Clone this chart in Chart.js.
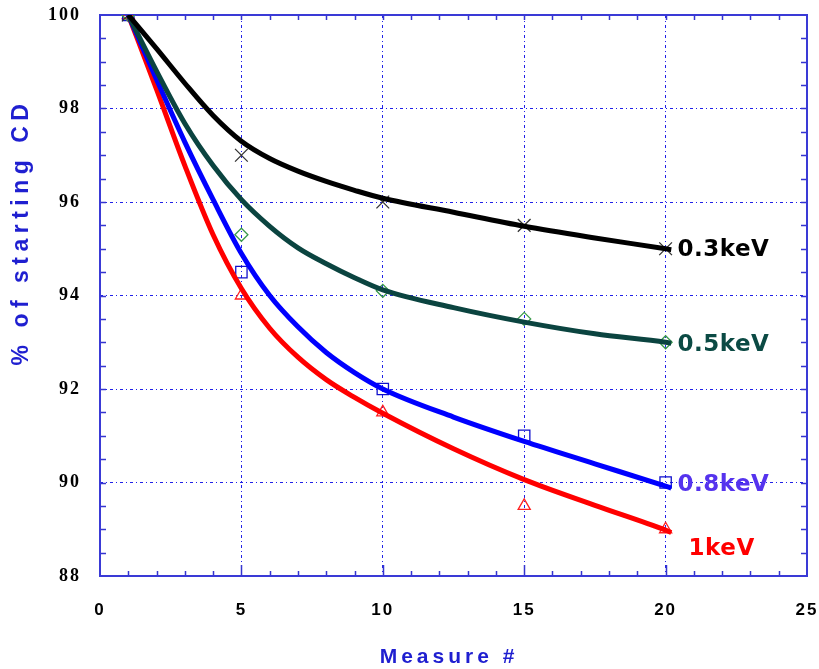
<!DOCTYPE html>
<html><head><meta charset="utf-8">
<script src="https://cdn.jsdelivr.net/npm/chart.js@4"></script>
<style>html,body{margin:0;padding:0;background:#fff}#wrap{width:819px;height:669px;position:relative}</style>
</head><body><div id="wrap"><canvas id="c" width="819" height="669"></canvas></div>
<script>
// Fitted curves
const curveX  = [1, 2, 3, 4, 5, 6, 7, 8, 9, 10, 12.5, 15, 17.5, 20, 20.2];
const curve03 = [100, 99.28, 98.54, 97.85, 97.30, 96.93, 96.66, 96.44, 96.25, 96.08, 95.78, 95.48, 95.23, 95.00, 94.98];
const curve05 = [100, 98.80, 97.68, 96.78, 96.05, 95.48, 95.02, 94.68, 94.38, 94.12, 93.74, 93.43, 93.18, 93.00, 92.98];
const curve08 = [100, 98.62, 97.28, 96.05, 94.90, 94.00, 93.33, 92.78, 92.35, 92.00, 91.40, 90.88, 90.40, 89.92, 89.88];
const curve1  = [100, 98.41, 96.78, 95.30, 94.15, 93.30, 92.68, 92.20, 91.82, 91.48, 90.72, 90.06, 89.51, 88.98, 88.93];
// Measured points
const measureX = [1, 5, 10, 15, 20];
const meas03 = [100, 97.0, 96.0, 95.5, 95.0];
const meas05 = [100, 95.3, 94.1, 93.5, 93.0];
const meas08 = [100, 94.5, 92.0, 91.0, 90.0];
const meas1  = [100, 94.0, 91.5, 89.5, 89.0];
const seriesNames = ['0.3keV', '0.5keV', '0.8keV', '1keV'];
const xTicks = [0, 5, 10, 15, 20, 25];
const yTicks = [88, 90, 92, 94, 96, 98, 100];
const xTitle = 'Measure #';
const yTitle = '% of starting CD';

const toPts = (xs, ys) => xs.map((x, i) => ({x: x, y: ys[i]}));
const curveColors = ['#000000', '#0b4440', '#0000ff', '#ff0000'];
const labelColors = ['#000000', '#0b4a44', '#5533ee', '#ff0000'];
const markColors  = ['#333333', '#3a9a4a', '#1010cc', '#ff2020'];
const curves = [curve03, curve05, curve08, curve1];
const meas = [meas03, meas05, meas08, meas1];
const markStyles = ['crossRot', 'rectRot', 'rect', 'triangle'];
const markRadius = [9, 6.5, 8, 7];

const datasets = [];
curves.forEach((c, i) => datasets.push({
  label: seriesNames[i], data: toPts(curveX, c), borderColor: curveColors[i],
  borderWidth: 5, pointRadius: 0, cubicInterpolationMode: 'monotone', fill: false
}));
meas.forEach((m, i) => datasets.push({
  label: seriesNames[i] + ' data', data: toPts(measureX, m), showLine: false,
  pointStyle: markStyles[i], pointRadius: markRadius[i], pointBorderColor: markColors[i],
  pointBackgroundColor: 'rgba(0,0,0,0)', pointBorderWidth: 1.3
}));

const decor = {
  id: 'decor',
  beforeDraw(chart) {
    const ctx = chart.ctx;
    ctx.save(); ctx.fillStyle = '#fff'; ctx.fillRect(0, 0, chart.width, chart.height); ctx.restore();
    ctx.letterSpacing = '2px';
  },
  beforeDatasetsDraw(chart) {
    const ctx = chart.ctx;
    ctx.letterSpacing = '0px';
    const a = chart.chartArea, xs = chart.scales.x, ys = chart.scales.y;
    ctx.save();
    ctx.strokeStyle = '#3535d0';
    ctx.lineWidth = 1.5;
    ctx.beginPath();
    for (let v = 1; v < 25; v++) {
      const px = Math.round(xs.getPixelForValue(v)) + 0.5;
      const len = (v % 5 === 0) ? 11 : 5;
      ctx.moveTo(px, a.bottom); ctx.lineTo(px, a.bottom - len);
      ctx.moveTo(px, a.top); ctx.lineTo(px, a.top + 5);
    }
    for (let v = 88.5; v < 100; v += 0.5) {
      const py = Math.round(ys.getPixelForValue(v)) + 0.5;
      ctx.moveTo(a.left, py); ctx.lineTo(a.left + 6, py);
      ctx.moveTo(a.right, py); ctx.lineTo(a.right - 6, py);
    }
    ctx.stroke();
    ctx.lineWidth = 2;
    ctx.strokeStyle = '#3a3ad6';
    ctx.strokeRect(a.left, a.top, a.right - a.left, a.bottom - a.top);
    ctx.restore();
  },
  afterDraw(chart) {
    const ctx = chart.ctx, xs = chart.scales.x, ys = chart.scales.y;
    ctx.save();
    // curve end labels
    const offs = [[12, 1], [12, 3], [12, 3], [23, 20]];
    ctx.font = 'bold 23px "DejaVu Sans"';
    ctx.letterSpacing = '0.5px';
    ctx.textAlign = 'left'; ctx.textBaseline = 'middle';
    curves.forEach((c, i) => {
      const px = xs.getPixelForValue(measureX[measureX.length - 1]);
      const py = ys.getPixelForValue(meas[i][meas[i].length - 1]);
      ctx.fillStyle = labelColors[i];
      ctx.fillText(seriesNames[i], px + offs[i][0], py + offs[i][1]);
    });
    // axis titles
    ctx.fillStyle = '#1f1fd0';
    ctx.font = 'bold 21px "Liberation Sans"';
    ctx.letterSpacing = '4px';
    ctx.textAlign = 'center';
    ctx.fillText(xTitle, 449, 657);
    ctx.translate(22, 232);
    ctx.rotate(-Math.PI / 2);
    ctx.font = 'bold 23px "Liberation Sans"';
    ctx.letterSpacing = '5.5px';
    ctx.fillText(yTitle, 0, 0);
    ctx.restore();
  }
};

new Chart(document.getElementById('c'), {
  type: 'line',
  data: {datasets},
  plugins: [decor],
  options: {
    responsive: false, animation: false, devicePixelRatio: 1,
    layout: {padding: {top: 15, right: 12, left: 0, bottom: 0}},
    plugins: {legend: {display: false}, tooltip: {enabled: false}},
    scales: {
      x: {
        type: 'linear', min: 0, max: 25,
        afterBuildTicks: s => { s.ticks = xTicks.map(v => ({value: v})); },
        afterFit: s => { s.height = 93; s.paddingLeft = 0; s.paddingRight = 0; },
        grid: {color: '#2020e8', lineWidth: 1, drawTicks: false},
        border: {display: false, dash: [3, 3, 1, 3]},
        ticks: {color: '#000', padding: 24, maxRotation: 0,
          font: {family: '"Liberation Sans"', weight: 'bold', size: 17}}
      },
      y: {
        min: 88, max: 100,
        afterBuildTicks: s => { s.ticks = yTicks.map(v => ({value: v})); },
        afterFit: s => { s.width = 100; s.paddingTop = 0; s.paddingBottom = 0; },
        grid: {color: '#2020e8', lineWidth: 1, drawTicks: false},
        border: {display: false, dash: [3, 3, 1, 3]},
        ticks: {color: '#000', padding: 19,
          font: {family: '"Liberation Serif"', weight: 'bold', size: 18}}
      }
    }
  }
});
</script></body></html>
